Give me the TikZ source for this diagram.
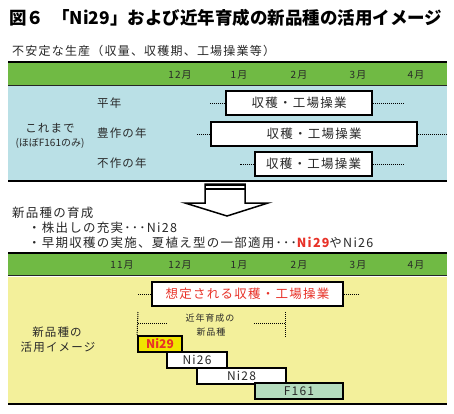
\documentclass[tikz,border=0pt]{standalone}
\usepackage{fontspec}
\setmainfont{Noto Sans CJK JP}
\newfontfamily\jps[LetterSpace=10]{Noto Sans CJK JP}
\definecolor{bandgreen}{RGB}{112,186,68}
\definecolor{lblue}{RGB}{186,224,230}
\definecolor{lyellow}{RGB}{243,240,155}
\definecolor{ybox}{RGB}{240,228,0}
\definecolor{redtxt}{RGB}{232,50,40}
\definecolor{fgreen}{RGB}{180,220,190}
\definecolor{txt}{RGB}{40,40,40}
\tikzset{
  heavy/.style={line width=2pt, black},
  thinrule/.style={line width=1.2pt, black!85},
  dotline/.style={densely dotted, line width=1pt, black},
  wbox/.style={draw=black, line width=1.8pt, fill=white, inner sep=0pt, text=txt},
  bar/.style={draw=black, line width=1.8pt, fill=white, inner sep=0pt, minimum height=16, text=txt},
  month/.style={font=\jps\fontsize{10}{12}\selectfont, text=txt, inner sep=0pt},
  lab/.style={font=\jps\fontsize{11.5}{14}\selectfont, text=txt, inner sep=0pt, anchor=west},
}
\begin{document}
\begin{tikzpicture}[x=1pt,y=-1pt]
\useasboundingbox (0,0) rectangle (454,413);
\fill[white] (0,0) rectangle (454,413);
% title
\node[anchor=west, inner sep=0pt, font=\bfseries\fontsize{17.5}{20}\selectfont] (title) at (9,18) {図６\hspace{8pt}「Ni29」および近年育成の新品種の活用イメージ};
\node[anchor=west, inner sep=0pt, font=\jps\fontsize{12}{14}\selectfont, text=txt] (sub) at (12,51) {不安定な生産（収量、収穫期、工場操業等）};
% upper panel
\fill[bandgreen] (8,62) rectangle (447,85);
\fill[lblue] (8,86) rectangle (447,179.5);
\draw[heavy] (8,61.5) -- (447,61.5);
\draw[thinrule] (8,85.6) -- (447,85.6);
\draw[heavy] (8,180.5) -- (447,180.5);
\node[month] (u12) at (180,75) {12月};
\node[month] (u1) at (239,75) {1月};
\node[month] (u2) at (299,75) {2月};
\node[month] (u3) at (358,75) {3月};
\node[month] (u4) at (416,75) {4月};
\node[lab] (heinen) at (97,103) {平年};
\node[lab] (hosaku) at (97,133) {豊作の年};
\node[lab] (fusaku) at (97,163) {不作の年};
\node[font=\jps\fontsize{11.5}{14}\selectfont, text=txt, inner sep=0pt] (kore) at (50,128) {これまで};
\node[font=\fontsize{10}{12}\selectfont, text=txt, inner sep=0pt] (hobo) at (50,143) {(ほぼF161のみ)};
\node[wbox, minimum width=146, minimum height=24, font=\jps\fontsize{12.5}{14}\selectfont] (b1) at (299,103) {収穫・工場操業};
\node[wbox, minimum width=206, minimum height=24, font=\jps\fontsize{12.5}{14}\selectfont] (b2) at (314,134) {収穫・工場操業};
\node[wbox, minimum width=117, minimum height=24, font=\jps\fontsize{12.5}{14}\selectfont] (b3) at (313.5,164) {収穫・工場操業};
\coordinate (b1l) at (210,103); \coordinate (b1r) at (403,103);
\coordinate (b2l) at (197,134); \coordinate (b2r) at (447,134);
\coordinate (b3l) at (240,164); \coordinate (b3r) at (403,164);
\draw[dotline] (b1.west) -- (b1l); \draw[dotline] (b1.east) -- (b1r);
\draw[dotline] (b2.west) -- (b2l); \draw[dotline] (b2.east) -- (b2r);
\draw[dotline] (b3.west) -- (b3l); \draw[dotline] (b3.east) -- (b3r);
% arrow
\draw[line width=1.5pt, fill=white] (205,184) -- (245,184) -- (245,203) -- (268,203) -- (227,216) -- (185,203) -- (205,203) -- cycle;
\draw[line width=2pt] (205,185) -- (245,185);
\draw[line width=2pt] (205,189) -- (245,189);
% middle text
\node[anchor=west, inner sep=0pt, font=\jps\fontsize{12.5}{14}\selectfont, text=txt] (ikusei) at (12,213) {新品種の育成};
\node[anchor=west, inner sep=0pt, font=\jps\fontsize{12.5}{14}\selectfont, text=txt] (kabu) at (28,228) {・株出しの充実･･･Ni28};
\node[anchor=west, inner sep=0pt, font=\jps\fontsize{12.5}{14}\selectfont, text=txt] (soki) at (28,243) {・早期収穫の実施、夏植え型の一部適用･･･\textcolor{redtxt}{\bfseries Ni29}やNi26};
% lower panel
\fill[bandgreen] (8,253) rectangle (447,275);
\fill[lyellow] (8,276.5) rectangle (447,403);
\draw[heavy] (8,252.5) -- (447,252.5);
\draw[thinrule] (8,275.8) -- (447,275.8);
\draw[heavy] (8,404) -- (447,404);
\node[month] (l11) at (122,265) {11月};
\node[month] (l12) at (180,265) {12月};
\node[month] (l1) at (239,265) {1月};
\node[month] (l2) at (299,265) {2月};
\node[month] (l3) at (358,265) {3月};
\node[month] (l4) at (416,265) {4月};
\node[wbox, minimum width=191, minimum height=24, font=\jps\fontsize{12.5}{14}\selectfont, text=redtxt] (sotei) at (247.5,294) {想定される収穫・工場操業};
\coordinate (sl) at (138,294); \coordinate (sr) at (358,294);
\draw[dotline] (sotei.west) -- (sl); \draw[dotline] (sotei.east) -- (sr);
\node[font=\jps\fontsize{9}{11}\selectfont, text=txt, inner sep=0pt] (kinen1) at (210,318) {近年育成の};
\node[font=\jps\fontsize{9}{11}\selectfont, text=txt, inner sep=0pt] (kinen2) at (211,332) {新品種};
\node[font=\jps\fontsize{11.5}{14}\selectfont, text=txt, inner sep=0pt] (shin) at (57,332) {新品種の};
\node[font=\jps\fontsize{11.5}{14}\selectfont, text=txt, inner sep=0pt] (katsu) at (58,347) {活用イメージ};
% bars
\node[bar, minimum width=89, font=\jps\fontsize{12}{14}\selectfont] (ni28) at (241.5,376) {Ni28};
\node[bar, minimum width=60, font=\jps\fontsize{12}{14}\selectfont] (ni26) at (197,360) {Ni26};
\node[bar, minimum width=88, fill=fgreen, font=\jps\fontsize{12}{14}\selectfont] (f161) at (299,391) {F161};
\node[bar, minimum width=44, fill=ybox, text=redtxt, font=\bfseries\fontsize{12}{14}\selectfont] (ni29) at (160,344) {Ni29};
% bracket
\coordinate (brl) at (138,312); \coordinate (brr) at (285,312); \coordinate (brrb) at (285,337);
\coordinate (hl) at (138,323); \coordinate (hl2) at (167,323);
\coordinate (hr) at (254,323); \coordinate (hr2) at (285,323);
\draw[dotline] (brl) -- (ni29.north west);
\draw[dotline] (brr) -- (brrb);
\draw[dotline] (hl) -- (hl2);
\draw[dotline] (hr) -- (hr2);
\end{tikzpicture}
\end{document}
